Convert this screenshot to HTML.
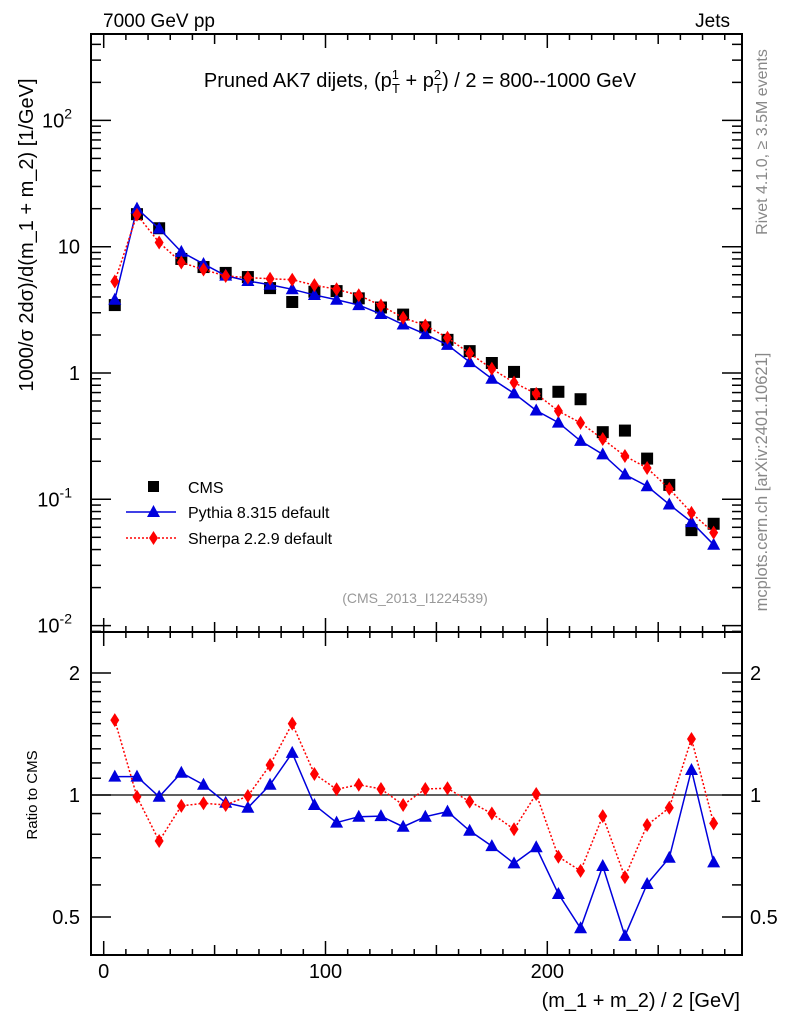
<!DOCTYPE html>
<html><head><meta charset="utf-8"><style>
body{margin:0;background:#fff}
svg{display:block;font-family:"Liberation Sans",sans-serif}
</style></head><body>
<svg id="c" width="786" height="1024" viewBox="0 0 786 1024" xmlns="http://www.w3.org/2000/svg">
<text x="103" y="27" font-size="19">7000 GeV pp</text>
<text x="730" y="27" font-size="19" text-anchor="end">Jets</text>
<text x="420" y="87" font-size="20" text-anchor="middle">Pruned AK7 dijets, (p<tspan font-size="13" dy="-8">1</tspan><tspan font-size="13" dx="-7" dy="14">T</tspan><tspan dy="-6"> + p</tspan><tspan font-size="13" dy="-8">2</tspan><tspan font-size="13" dx="-7" dy="14">T</tspan><tspan dy="-6">) / 2 = 800--1000 GeV</tspan></text>
<text transform="translate(33,235) rotate(-90)" font-size="20" text-anchor="middle">1000/σ   2dσ)/d(m_1 + m_2) [1/GeV]</text>
<text transform="translate(767,142) rotate(-90)" font-size="16" fill="#888" text-anchor="middle">Rivet 4.1.0, ≥ 3.5M events</text>
<text transform="translate(767,482) rotate(-90)" font-size="16.5" fill="#888" text-anchor="middle">mcplots.cern.ch [arXiv:2401.10621]</text>
<text x="415" y="603" font-size="14" fill="#999" text-anchor="middle">(CMS_2013_I1224539)</text>
<text transform="translate(37,795) rotate(-90)" font-size="15" text-anchor="middle">Ratio to CMS</text>
<text x="740" y="1007" font-size="20" text-anchor="end">(m_1 + m_2) / 2 [GeV]</text>
<g id="legend">
<rect x="148" y="481" width="11" height="11" fill="#000"/>
<text x="188" y="493" font-size="16">CMS</text>
<line x1="126" y1="512" x2="176" y2="512" stroke="#0000dd" stroke-width="1.5"/>
<path d="M153.5,505 L160,517 L147,517 Z" fill="#0000dd"/>
<text x="188" y="518" font-size="16">Pythia 8.315 default</text>
<line x1="126" y1="538" x2="176" y2="538" stroke="#f00" stroke-width="1.5" stroke-dasharray="2,2"/>
<path d="M153.5,531 L158,538 L153.5,545 L149,538 Z" fill="#f00"/>
<text x="188" y="544" font-size="16">Sherpa 2.2.9 default</text>
</g>
</svg>
<script>
const xCenters=[5,15,25,35,45,55,65,75,85,95,105,115,125,135,145,155,165,175,185,195,205,215,225,235,245,255,265,275];
const cmsValues=[3.45,18.1,14.0,8.0,6.9,6.2,5.75,4.7,3.65,4.4,4.45,3.9,3.3,2.9,2.3,1.83,1.49,1.2,1.02,0.68,0.71,0.62,0.34,0.35,0.21,0.13,0.057,0.064];
const pythiaValues=[3.8,20,13.9,9.1,7.3,5.9,5.35,5.0,4.6,4.15,3.8,3.45,2.93,2.42,2.03,1.67,1.22,0.9,0.69,0.505,0.405,0.29,0.227,0.157,0.127,0.091,0.066,0.0437];
const sherpaValues=[5.3,17.9,10.8,7.5,6.6,5.86,5.7,5.57,5.48,4.96,4.6,4.13,3.42,2.74,2.38,1.9,1.43,1.08,0.84,0.684,0.5,0.403,0.30,0.22,0.177,0.121,0.078,0.0545];
const pythiaRatio=[1.11,1.11,0.99,1.135,1.06,0.957,0.93,1.06,1.27,0.945,0.855,0.884,0.887,0.835,0.884,0.91,0.816,0.748,0.678,0.743,0.57,0.469,0.668,0.449,0.603,0.70,1.153,0.682];
const sherpaRatio=[1.53,0.99,0.77,0.94,0.954,0.945,0.994,1.186,1.50,1.127,1.033,1.06,1.035,0.945,1.035,1.039,0.963,0.90,0.823,1.006,0.704,0.65,0.887,0.627,0.843,0.93,1.375,0.851];
const xTickLabels=[0,100,200];
const mainTickLabels=[[0.01,'10','-2'],[0.1,'10','-1'],[1,'1',''],[10,'10',''],[100,'10','2']];
const ratioTickLabels=[0.5,1,2];

const NS='http://www.w3.org/2000/svg';
const svg=document.getElementById('c');
const L=91,R=742,T=34,MB=632,B=955;
const X=v=>103.7+v*2.218;
const Y=v=>373-126.3*Math.log10(v);
const RY=v=>795-122*Math.log2(v);
function mk(tag,at,parent){const e=document.createElementNS(NS,tag);for(const k in at)e.setAttribute(k,at[k]);(parent||svg).appendChild(e);return e;}

const axes=mk('g',{});


const f1=mk('rect',{x:L,y:T,width:R-L,height:MB-T,fill:'none',stroke:'#000','stroke-width':2},axes);


const f2=mk('rect',{x:L,y:MB,width:R-L,height:B-MB,fill:'none',stroke:'#000','stroke-width':2},axes);


for(let v=0;v<=280;v+=10){
 const len=v%100===0?14:(v%50===0?10:6);
 mk('line',{x1:X(v),x2:X(v),y1:B,y2:B-len,stroke:'#000','stroke-width':1.5},axes);
 mk('line',{x1:X(v),x2:X(v),y1:MB,y2:MB-len,stroke:'#000','stroke-width':1.5},axes);
 mk('line',{x1:X(v),x2:X(v),y1:T,y2:T+len,stroke:'#000','stroke-width':1.5},axes);
 mk('line',{x1:X(v),x2:X(v),y1:MB,y2:MB+len,stroke:'#000','stroke-width':1.5},axes);
}
xTickLabels.forEach(v=>{const t=mk('text',{x:X(v),y:978,'font-size':20,'text-anchor':'middle'},axes);t.textContent=v;

});
for(let d=-3;d<=2;d++){for(let m=1;m<10;m++){const v=m*Math.pow(10,d);const y=Y(v);if(y<T||y>MB)continue;const len=m===1?20:10;
 mk('line',{x1:L,x2:L+len,y1:y,y2:y,stroke:'#000','stroke-width':1.5},axes);
 mk('line',{x1:R,x2:R-len,y1:y,y2:y,stroke:'#000','stroke-width':1.5},axes);}}
mainTickLabels.forEach(([v,b,e])=>{const t=mk('text',{x:e?72:80,y:Y(v)+7,'font-size':20,'text-anchor':'end'},axes);t.textContent=b;
 if(e){const s=mk('tspan',{'font-size':14,dy:-9},t);s.textContent=e;}
 
 });
[0.4,0.5,0.6,0.7,0.8,0.9,1,2,1.1,1.2,1.3,1.4,1.5,1.6,1.7,1.8,1.9].forEach(v=>{const y=RY(v);if(y<MB||y>B)return;const len=(v===0.5||v===1||v===2)?20:10;
 mk('line',{x1:L,x2:L+len,y1:y,y2:y,stroke:'#000','stroke-width':1.5},axes);
 mk('line',{x1:R,x2:R-len,y1:y,y2:y,stroke:'#000','stroke-width':1.5},axes);});
ratioTickLabels.forEach(v=>{for(const [x,a] of [[80,'end'],[750,'start']]){const t=mk('text',{x:x,y:RY(v)+7,'font-size':20,'text-anchor':a},axes);t.textContent=v;
 
 }});
const one=mk('line',{x1:L,x2:R,y1:RY(1),y2:RY(1),stroke:'#000','stroke-width':1.2},axes);



function series(vals,ysc,color,dash,shape,name){
 const g=mk('g',{});
 
 
 if(shape!=='sq'){const pts=xCenters.map((x,i)=>X(x)+','+ysc(vals[i])).join(' ');
  mk('polyline',{points:pts,fill:'none',stroke:color,'stroke-width':1.5,'stroke-dasharray':dash||'none'},g);}
 xCenters.forEach((x,i)=>{const cx=X(x),cy=ysc(vals[i]);let e;
  if(shape==='sq')e=mk('rect',{x:cx-6,y:cy-6,width:12,height:12,fill:'#000'},g);
  else if(shape==='tri')e=mk('path',{d:`M${cx},${cy-7} L${cx+6.5},${cy+5} L${cx-6.5},${cy+5} Z`,fill:color},g);
  else e=mk('path',{d:`M${cx},${cy-7} L${cx+4.5},${cy} L${cx},${cy+7} L${cx-4.5},${cy} Z`,fill:color},g);
  
  });
}
series(cmsValues,Y,'#000',null,'sq','cms-series');
series(pythiaValues,Y,'#0000dd',null,'tri','pythia-series');
series(sherpaValues,Y,'#f00','2,2','dia','sherpa-series');
series(pythiaRatio,RY,'#0000dd',null,'tri','pythia-ratio');
series(sherpaRatio,RY,'#f00','2,2','dia','sherpa-ratio');
</script>
</body></html>
